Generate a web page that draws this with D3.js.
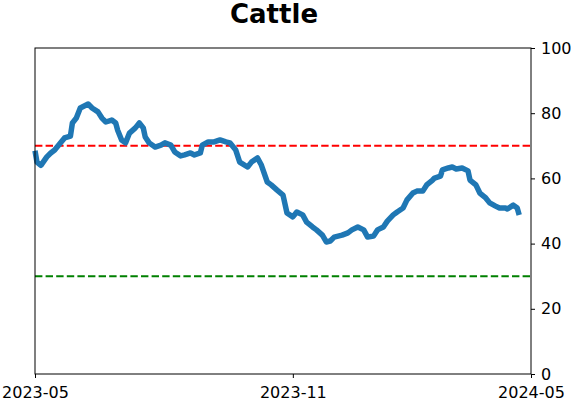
<!DOCTYPE html>
<html>
<head>
<meta charset="utf-8">
<script src="https://cdn.jsdelivr.net/npm/d3@7"></script>
<style>
  body { margin: 0; background: #fff; }
  text { font-family: "DejaVu Sans", sans-serif; }
</style>
</head>
<body>
<div id="chart"></div>
<script>
// chart data (x = trading day since start, y = reading)
var days = [0, 1, 3, 6, 8, 10, 13, 15, 18, 19, 21, 23, 27, 29, 32, 34, 36, 39, 41, 42, 44, 46, 48, 51, 53, 55, 56, 58, 61, 64, 66, 69, 71, 74, 76, 79, 81, 84, 85, 88, 91, 94, 97, 99, 102, 104, 108, 110, 113, 115, 118, 120, 123, 126, 128, 131, 133, 136, 138, 141, 143, 146, 148, 150, 152, 156, 159, 161, 164, 167, 169, 172, 174, 177, 179, 182, 184, 187, 189, 192, 194, 197, 199, 202, 203, 206, 207, 210, 212, 214, 217, 220, 221, 224, 226, 229, 231, 234, 236, 239, 240, 243, 245, 246]
var values = [68.5, 65, 64, 66.6, 67.8, 68.7, 70.9, 72.4, 73, 77, 78.5, 81.6, 82.8, 81.6, 80.4, 78.5, 77.3, 77.9, 77, 74.8, 71.8, 70.9, 73.9, 75.5, 77, 75.5, 72.7, 70.9, 69.6, 70.2, 70.9, 70.2, 68.1, 66.9, 67.2, 67.8, 67.2, 67.8, 70.2, 71.2, 71.2, 71.8, 71.2, 70.9, 68.7, 65, 63.5, 65, 66.3, 64.1, 58.9, 58, 56.4, 54.9, 49.4, 48.2, 49.7, 48.8, 46.6, 45.1, 44.2, 42.6, 40.5, 40.8, 42, 42.6, 43.3, 44.2, 45.1, 44.2, 42, 42.3, 44.2, 45.1, 46.9, 48.8, 49.7, 50.9, 53.4, 55.5, 56.1, 56.1, 58, 59.5, 60.1, 60.7, 62.6, 63.2, 63.5, 62.9, 63.2, 62.3, 59.5, 58, 55.5, 54, 52.5, 51.5, 50.9, 50.9, 50.6, 51.8, 50.9, 48.8]
var tickDays = [0, 131, 252]
var tickLabels = ["2023-05", "2023-11", "2024-05"]
var yTicks = [0, 20, 40, 60, 80, 100]
var upperLevel = 70
var lowerLevel = 30

var width = 571,
    height = 402
var margin = {top: 48, right: 40, bottom: 28, left: 35}

var svg = d3.select("#chart")
  .append("svg")
    .attr("width", width)
    .attr("height", height)

var x = d3.scaleLinear()
  .domain([0, 252])
  .range([margin.left, width - margin.right])

var y = d3.scaleLinear()
  .domain([0, 100])
  .range([height - margin.bottom, margin.top])

// title
svg.append("text")
  .attr("x", 274)
  .attr("y", 23)
  .attr("text-anchor", "middle")
  .style("font-size", "26px")
  .style("font-weight", "bold")
  .text("Cattle")

// reference levels
svg.selectAll("line.level")
  .data([[upperLevel, "#ff0000"], [lowerLevel, "#008000"]])
  .enter()
  .append("line")
    .attr("class", "level")
    .attr("x1", x.range()[0])
    .attr("x2", x.range()[1])
    .attr("y1", function(d) { return y(d[0]) })
    .attr("y2", function(d) { return y(d[0]) })
    .attr("stroke", function(d) { return d[1] })
    .attr("stroke-width", 2)
    .attr("stroke-dasharray", "7.4,3.2")

// the series
var line = d3.line()
  .x(function(d, i) { return x(days[i]) })
  .y(function(d) { return y(d) })

svg.append("path")
  .datum(values)
  .attr("d", line)
  .attr("fill", "none")
  .attr("stroke", "#1f77b4")
  .attr("stroke-width", 5.5)
  .attr("stroke-linejoin", "round")

// frame
svg.append("rect")
  .attr("x", x.range()[0])
  .attr("y", y.range()[1])
  .attr("width", x.range()[1] - x.range()[0])
  .attr("height", y.range()[0] - y.range()[1])
  .attr("fill", "none")
  .attr("stroke", "#000")
  .attr("stroke-width", 1)

// axes
svg.append("g")
  .attr("transform", "translate(0," + y.range()[0] + ")")
  .call(d3.axisBottom(x)
    .tickValues(tickDays)
    .tickFormat(function(d, i) { return tickLabels[i] })
    .tickSize(4)
    .tickPadding(9))

svg.append("g")
  .attr("transform", "translate(" + x.range()[1] + ",0)")
  .call(d3.axisRight(y)
    .tickValues(yTicks)
    .tickSize(4)
    .tickPadding(6))

svg.selectAll(".domain").remove()
svg.selectAll(".tick text")
  .style("font-size", "16px")
  .style("font-family", "DejaVu Sans")
  .attr("fill", "#000")
svg.selectAll(".tick line").attr("stroke", "#000")
</script>
</body>
</html>
